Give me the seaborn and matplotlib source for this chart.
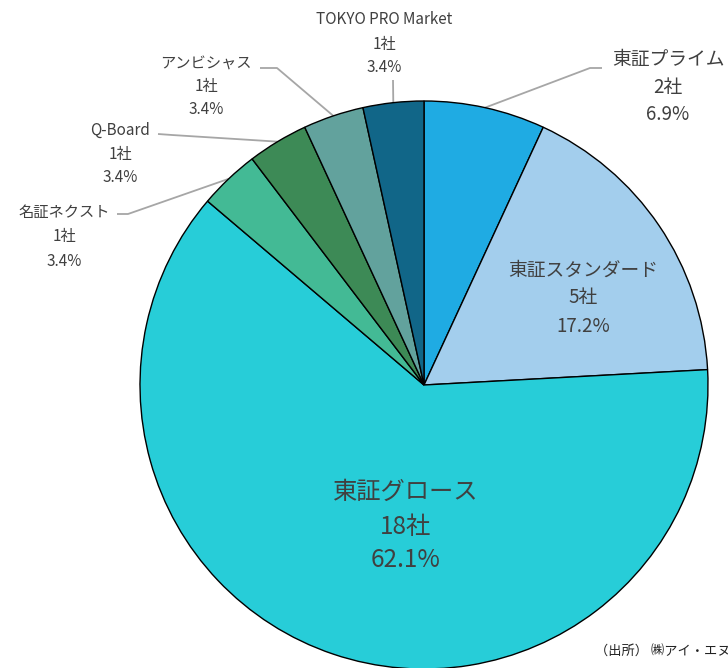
import numpy as np
import matplotlib
matplotlib.use("Agg")
import matplotlib.pyplot as plt
import seaborn as sns

# data
markets = ['東証プライム', '東証スタンダード', '東証グロース', '名証ネクスト',
           'Q-Board', 'アンビシャス', 'TOKYO PRO Market']
counts = [2, 5, 18, 1, 1, 1, 1]
colors = ['#1FABE3', '#A3CEED', '#27CDD8', '#43BA95', '#3D8A56', '#62A29D', '#116688']
source = '（出所） ㈱アイ・エヌ'

sns.set_style("white")
plt.rcParams['font.family'] = ['Noto Sans CJK JP', 'DejaVu Sans']

W, H = 728, 668
fig = plt.figure(figsize=(W / 100, H / 100), dpi=100)
ax = fig.add_axes([0, 0, 1, 1])

def py(y):
    # pixel row -> data y
    return H - y

cx, cy, r = 424, 385, 284
total = sum(counts)
pcts = [c / total * 100 for c in counts]

ax.pie(counts, center=(cx, py(cy)), radius=r, startangle=90, counterclock=False,
       colors=sns.color_palette(colors),
       wedgeprops=dict(edgecolor='black', linewidth=1.0))
ax.set_xlim(0, W)
ax.set_ylim(0, H)
ax.set_aspect('equal')
ax.axis('off')

txt_col = '#404040'
line_col = '#A6A6A6'

# mid angles of wedges (clockwise from top)
cum = np.cumsum([0] + counts)
mids = [90 - (cum[i] + cum[i + 1]) / 2 / total * 360 for i in range(len(counts))]

def edge_pt(i):
    a = np.deg2rad(mids[i])
    return cx + r * np.cos(a), cy - r * np.sin(a)

def label(i, x, ys, size):
    lines = [markets[i], f'{counts[i]}社', f'{pcts[i]:.1f}%']
    for t, y in zip(lines, ys):
        ax.text(x, py(y), t, ha='center', va='center', fontsize=size, color=txt_col)

# inside labels
label(1, 583, [270, 298, 326], 13.5)
label(2, 406, [492, 527, 560], 17.5)

# outside labels: (index, text x, line ys, size, leader points after edge)
outside = [
    (0, 668, [60, 87, 115], 13.5, [(590, 68), (602, 68)]),
    (3, 64, [212, 237, 261], 11, [(128, 214), (117, 214)]),
    (4, 120, [130, 154, 178], 11, [(172, 135), (158, 134)]),
    (5, 206, [63, 87, 110], 11, [(277, 68), (260, 68)]),
    (6, 384, [20, 44, 68], 11, [(393, 80)]),
]
for i, x, ys, size, pts in outside:
    label(i, x, ys, size)
    ex, ey = edge_pt(i)
    xs = [ex] + [p[0] for p in pts]
    yy = [py(ey)] + [py(p[1]) for p in pts]
    ax.plot(xs, yy, color=line_col, lw=1.3, solid_capstyle='butt', zorder=0)

ax.text(595, py(652), source, ha='left', va='center',
        fontsize=9.5, color='#222222')

fig.savefig('out.png', dpi=100)
